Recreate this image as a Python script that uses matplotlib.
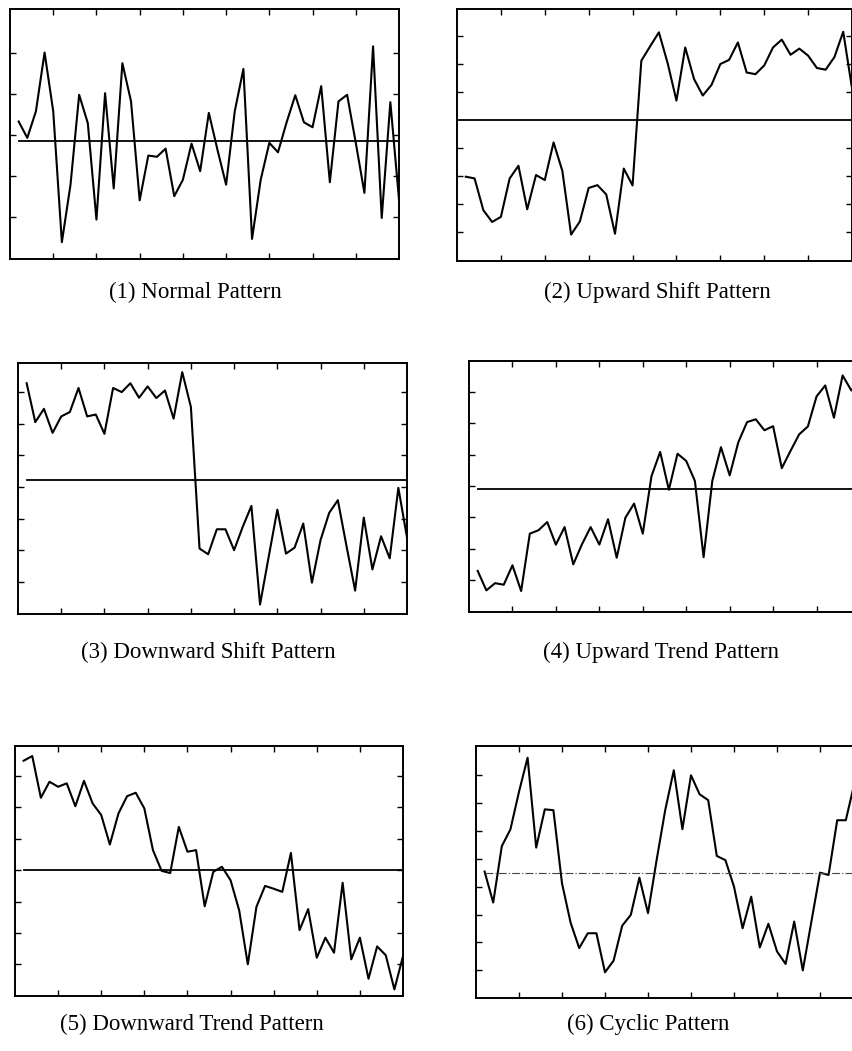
import numpy as np
from matplotlib import pyplot as plt

# six control chart patterns, 45 samples each
normal = [0.32, -0.08, 0.57, 2.0, 0.57, -2.62, -1.22, 0.97, 0.28, -2.07,
          1.01, -1.31, 1.74, 0.81, -1.60, -0.51, -0.54, -0.34, -1.50, -1.10,
          -0.22, -0.89, 0.53, -0.37, -1.22, 0.57, 1.60, -2.54, -1.10, -0.20,
          -0.43, 0.30, 0.96, 0.30, 0.18, 1.18, -1.16, 0.81, 0.97, -0.20,
          -1.42, 2.15, -2.03, 0.79, -1.58]
up_shift = [-2.02, -2.08, -3.21, -3.63, -3.45, -2.08, -1.63, -3.18, -1.96, -2.14,
            -0.80, -1.81, -4.08, -3.61, -2.42, -2.32, -2.65, -4.05, -1.73, -2.33,
            2.11, 2.62, 3.12, 2.02, 0.69, 2.58, 1.46, 0.87, 1.25, 1.99,
            2.14, 2.76, 1.69, 1.63, 1.94, 2.58, 2.86, 2.32, 2.54, 2.29,
            1.85, 1.79, 2.24, 3.14, 1.13]
down_shift = [3.28, 2.05, 2.47, 1.71, 2.23, 2.37, 3.13, 2.23, 2.29, 1.68,
              3.13, 3.00, 3.28, 2.82, 3.18, 2.81, 3.05, 2.16, 3.63, 2.53,
              -1.95, -2.13, -1.34, -1.34, -2.00, -1.26, -0.60, -3.72, -2.21, -0.72,
              -2.11, -1.92, -1.16, -3.03, -1.68, -0.82, -0.42, -1.87, -3.28, -0.97,
              -2.61, -1.56, -2.26, -0.03, -1.60]
up_trend = [-2.71, -3.33, -3.10, -3.15, -2.53, -3.35, -1.52, -1.41, -1.15, -1.87,
            -1.31, -2.50, -1.86, -1.31, -1.87, -1.06, -2.29, -1.01, -0.56, -1.52,
            0.31, 1.09, -0.12, 1.03, 0.80, 0.16, -2.27, 0.16, 1.24, 0.34,
            1.40, 2.04, 2.13, 1.78, 1.91, 0.57, 1.12, 1.65, 1.90, 2.86,
            3.21, 2.18, 3.53, 3.05, 3.40]
down_trend = [3.49, 3.64, 2.31, 2.82, 2.66, 2.77, 2.04, 2.85, 2.13, 1.76,
              0.82, 1.81, 2.36, 2.47, 1.97, 0.64, -0.02, -0.09, 1.38, 0.59,
              0.64, -1.15, -0.05, 0.11, -0.32, -1.28, -3.00, -1.17, -0.50, -0.59,
              -0.69, 0.55, -1.91, -1.24, -2.79, -2.15, -2.63, -0.40, -2.84, -2.15,
              -3.46, -2.43, -2.71, -3.80, -2.74]
cyclic = [0.04, -1.07, 0.95, 1.55, 2.90, 4.12, 0.90, 2.27, 2.24, -0.38,
          -1.79, -2.70, -2.17, -2.17, -3.57, -3.15, -1.90, -1.51, -0.18, -1.45,
          0.45, 2.24, 3.67, 1.56, 3.49, 2.81, 2.60, 0.60, 0.45, -0.50,
          -1.99, -0.86, -2.68, -1.83, -2.82, -3.27, -1.75, -3.50, -1.75, 0.00,
          -0.08, 1.88, 1.88, 3.20, 3.00]

titles = ['(1) Normal Pattern', '(2) Upward Shift Pattern',
          '(3) Downward Shift Pattern', '(4) Upward Trend Pattern',
          '(5) Downward Trend Pattern', '(6) Cyclic Pattern']
series = [normal, up_shift, down_shift, up_trend, down_trend, cyclic]
means = [-0.16, 0.0, 0.23, -0.11, 0.0, 0.0]
mean_start = [1, 0, 1, 1, 1, 1]
ylims = [(-3.03, 3.06), (-5.02, 3.95), (-4.02, 3.92),
         (-4.02, 3.99), (-4.01, 3.96), (-4.49, 4.54)]
yticks = [[-2, -1, 0, 1, 2], [-4, -3, -2, -1, 1, 2, 3], [-3, -2, -1, 0, 1, 2, 3],
          [-3, -2, -1, 0, 1, 2, 3], [-3, -2, -1, 0, 1, 2, 3],
          [-3.5, -2.5, -1.5, -0.5, 0.5, 1.5, 2.5, 3.5]]
xticks = [5, 10, 15, 20, 25, 30, 35, 40]

W, H = 852, 1051
# axes boxes in pixels: left, top, right, bottom
boxes = [(10, 9, 399, 259), (457, 9, 852, 261), (18, 363, 407, 614),
         (469, 361, 860, 612), (15, 746, 403, 996), (476, 746, 863, 998)]
title_pos = [(195, 292), (657, 292), (208, 652), (661, 652), (192, 1024), (648, 1024)]

fig = plt.figure(figsize=(W / 100, H / 100), dpi=100)

for i in range(6):
    l, t, r, b = boxes[i]
    ax = fig.add_axes([l / W, 1 - b / H, (r - l) / W, (b - t) / H])
    x = np.arange(1, len(series[i]) + 1)
    ax.plot(x, series[i], color='black', lw=1.5, clip_on=False if i in (3, 5) else True)
    if i == 5:
        ax.plot([mean_start[i], 45], [means[i]] * 2, color='#444444', lw=0.8,
                linestyle=(0, (7, 2, 1, 2)))
    else:
        ax.plot([mean_start[i], 45], [means[i]] * 2, color='black', lw=1.3)
    ax.set_xlim(0, 45)
    ax.set_ylim(*ylims[i])
    ax.set_xticks(xticks)
    ax.set_yticks(yticks[i])
    ax.tick_params(direction='in', length=4, width=1, top=True, right=True,
                   labelbottom=False, labelleft=False)
    for s in ax.spines.values():
        s.set_linewidth(1.4)
    fig.text(title_pos[i][0] / W, 1 - title_pos[i][1] / H, titles[i],
             ha='center', va='center', fontsize=16.5, family='Liberation Serif')

fig.savefig('out.png', dpi=100)
